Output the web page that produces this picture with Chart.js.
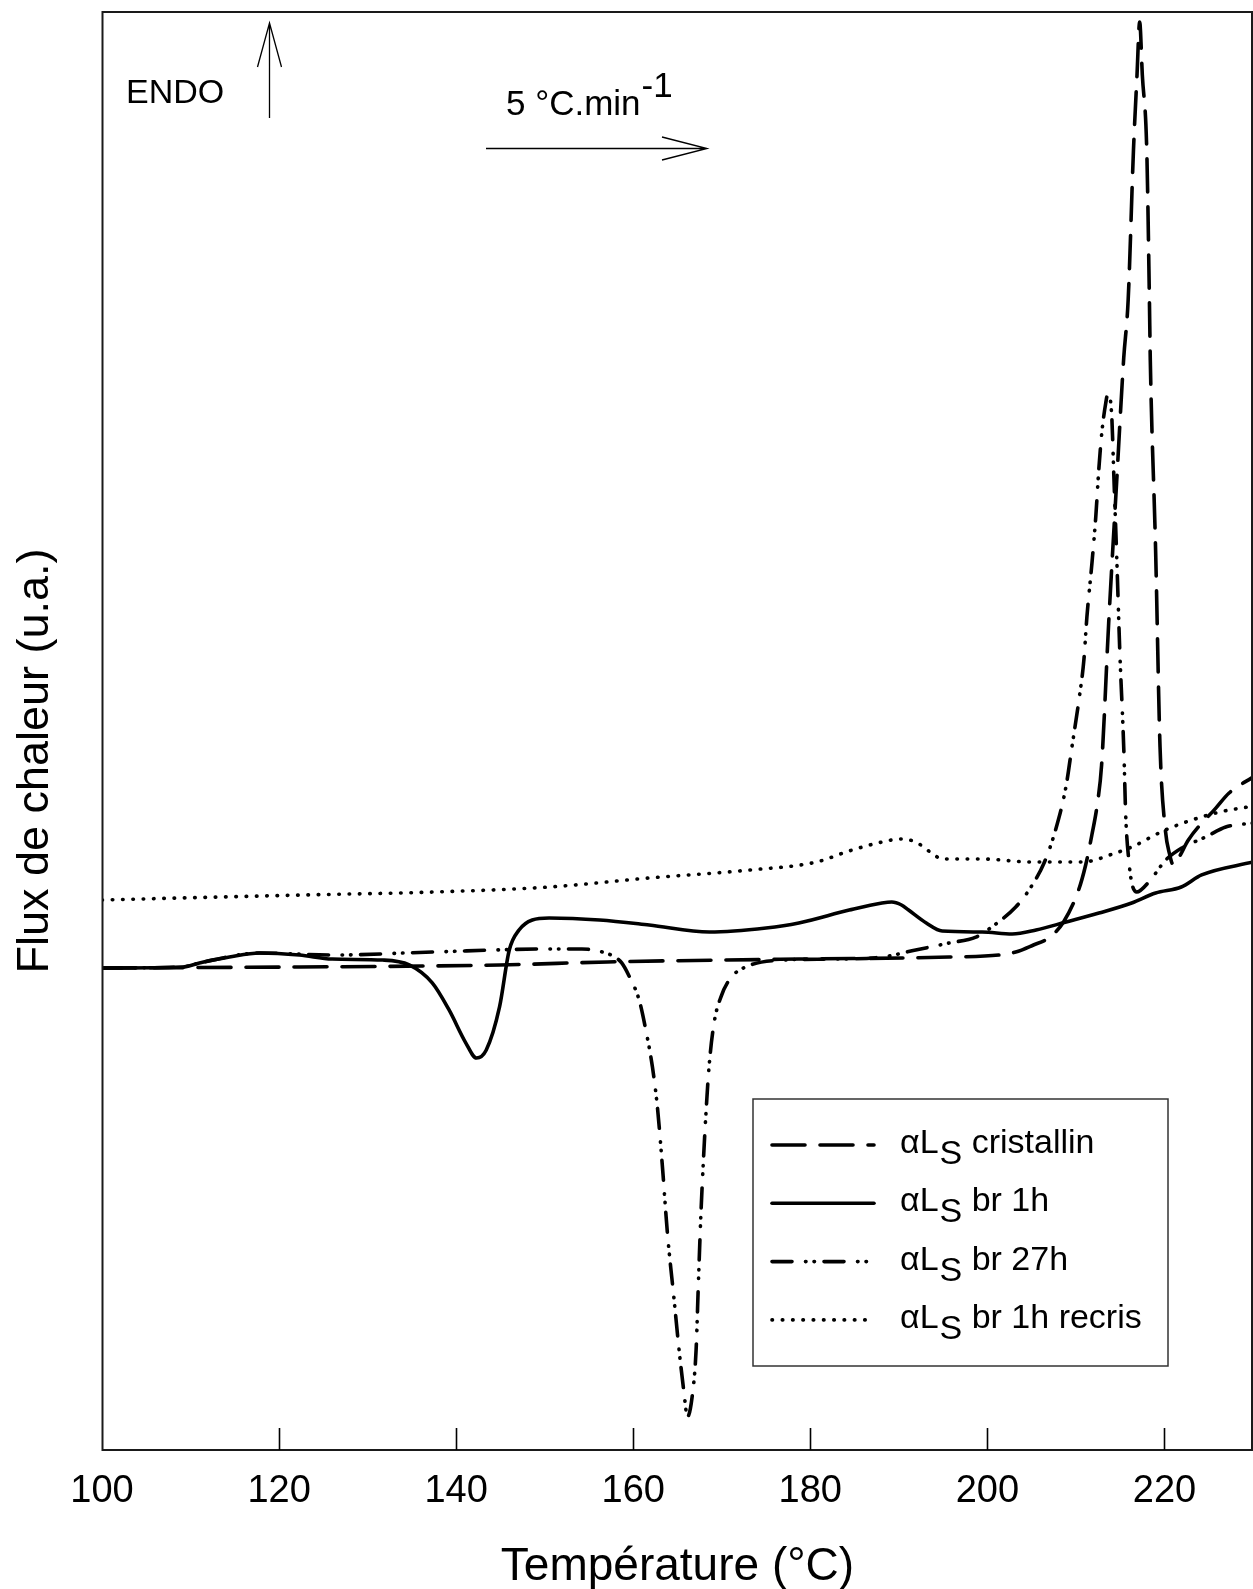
<!DOCTYPE html>
<html>
<head>
<meta charset="utf-8">
<style>
  html, body { margin: 0; padding: 0; background: #ffffff; overflow: hidden; }
  #wrap { width: 1253px; height: 1589px; }
</style>
<script src="https://cdn.jsdelivr.net/npm/chart.js"></script>
</head>
<body>
<div id="wrap"><canvas id="c" width="1253" height="1589"></canvas></div>
<script>
// ---------- data ----------
const tickValues = [100, 120, 140, 160, 180, 200, 220];

const seriesNames = ['cristallin', 'br 1h', 'br 27h', 'br 1h recris'];

const tempCristallin = [100, 122.3, 144.9, 157.1, 178.7, 195.7, 201.3, 203.2, 205.2, 206.9, 208.6, 210.3, 211.1, 211.8, 212.4, 212.9, 213.7, 214.6, 215.4, 215.9, 216.5, 216.9, 217.2, 217.5, 218.0, 218.3, 218.4, 219.0, 219.5, 220.1, 220.6, 221.0, 221.6, 222.7, 225.8, 227.3, 230];
const fluxCristallin = [33.52, 33.59, 33.73, 33.94, 34.14, 34.28, 34.42, 34.63, 35.12, 35.60, 36.72, 38.94, 40.68, 42.77, 44.85, 47.63, 57.51, 67.32, 75.94, 79.97, 90.40, 95.62, 99.30, 95.62, 90.40, 79.97, 75.80, 62.59, 48.89, 43.12, 41.38, 40.68, 41.17, 42.42, 44.64, 45.69, 46.80];

const tempBr1h = [100, 109.1, 111.0, 114.4, 117.8, 122.3, 126.0, 131.7, 134.7, 137.3, 139.2, 141.1, 142.3, 143.4, 144.9, 146.0, 147.1, 148.6, 150.5, 156.2, 161.8, 168.6, 175.0, 178.7, 184.4, 188.1, 189.2, 190.3, 191.1, 193.1, 194.9, 199.4, 202.8, 205.5, 208.9, 212.6, 216.3, 219.0, 221.9, 224.2, 230];
const fluxBr1h = [33.52, 33.59, 33.87, 34.28, 34.56, 34.42, 34.14, 34.07, 33.73, 32.48, 30.60, 28.30, 27.26, 27.82, 30.81, 34.77, 36.16, 36.86, 37.00, 36.86, 36.51, 36.02, 36.30, 36.65, 37.55, 38.04, 38.11, 37.90, 37.55, 36.65, 36.09, 36.02, 35.88, 36.16, 36.72, 37.34, 38.04, 38.73, 39.15, 39.99, 40.89];

const tempBr27h = [100, 109.1, 111.0, 117.8, 126.0, 137.3, 150.5, 154.2, 156.9, 158.1, 158.7, 159.5, 160.67, 161.42, 162.17, 162.73, 163.30, 163.86, 164.62, 165.18, 165.74, 166.12, 166.65, 167.10, 167.36, 167.63, 167.89, 168.19, 168.56, 169.13, 169.9, 171.0, 172.7, 176.8, 182.4, 188.1, 191.9, 195.7, 198.7, 200.5, 203.2, 204.7, 206.4, 207.7, 208.87, 209.55, 210.34, 210.9, 211.24, 211.81, 212.24, 212.58, 212.92, 213.37, 213.63, 214.05, 214.28, 214.62, 214.95, 215.41, 215.63, 215.97, 216.31, 216.87, 218.23, 220.15, 221.95, 224.66, 226.92, 230];
const fluxBr27h = [33.52, 33.59, 33.87, 34.56, 34.42, 34.63, 34.84, 34.84, 34.56, 34.21, 33.87, 33.0, 31.29, 29.21, 26.63, 23.85, 19.68, 15.09, 10.43, 6.95, 3.96, 2.3, 3.69, 6.95, 11.61, 16.20, 19.68, 23.16, 26.63, 29.69, 31.50, 32.82, 33.59, 34.07, 34.14, 34.28, 34.77, 35.26, 35.67, 36.37, 37.76, 38.94, 40.82, 43.12, 46.11, 48.89, 52.16, 54.94, 57.93, 61.68, 64.88, 68.15, 70.72, 72.81, 73.50, 71.84, 67.80, 61.89, 55.63, 48.68, 44.02, 41.03, 39.43, 38.80, 39.50, 41.03, 41.86, 42.63, 43.32, 43.60];

const tempRecris = [100, 122.3, 137.3, 150.5, 161.8, 173.1, 180.7, 184.4, 188.1, 190.3, 191.9, 193.7, 194.9, 199.4, 205.0, 210.7, 214.5, 216.3, 220.1, 225.8, 230];
const fluxRecris = [38.25, 38.59, 38.80, 39.15, 39.78, 40.33, 40.89, 41.66, 42.28, 42.49, 42.28, 41.52, 41.10, 41.10, 40.89, 40.89, 41.52, 41.93, 43.12, 44.30, 44.78];

// ---------- build ----------
const FONT = '"Liberation Sans", Arial, Helvetica, sans-serif';
const toPts = (xs, ys) => xs.map((x, i) => ({ x: x, y: ys[i] }));

const LINE_W = 3.6;
const dashPatterns = [
  [33, 15],
  [],
  [20, 13.5, 0.5, 8, 0.5, 9.5],
  [0.5, 9.8]
];

function mkDataset(name, xs, ys, dash) {
  return {
    label: name,
    data: toPts(xs, ys),
    borderColor: '#000000',
    backgroundColor: '#000000',
    borderWidth: LINE_W,
    borderDash: dash,
    borderCapStyle: 'round',
    borderJoinStyle: 'round',
    pointRadius: 0,
    pointHoverRadius: 0,
    fill: false,
    cubicInterpolationMode: 'monotone'
  };
}

const datasets = [
  mkDataset(seriesNames[0], tempCristallin, fluxCristallin, dashPatterns[0]),
  mkDataset(seriesNames[1], tempBr1h, fluxBr1h, dashPatterns[1]),
  mkDataset(seriesNames[2], tempBr27h, fluxBr27h, dashPatterns[2]),
  mkDataset(seriesNames[3], tempRecris, fluxRecris, dashPatterns[3])
];

const decor = {
  id: 'decor',
  afterDraw(chart) {
    const ctx = chart.ctx;
    const a = chart.chartArea;
    const xs = chart.scales.x;
    ctx.save();
    ctx.fillStyle = '#000';
    ctx.strokeStyle = '#000';

    // frame
    ctx.lineWidth = 2;
    ctx.strokeStyle = '#1a1a1a';
    ctx.setLineDash([]);
    ctx.strokeRect(a.left + 0.5, a.top, a.right - a.left - 1.5, a.bottom - a.top);

    // inside ticks
    ctx.lineWidth = 1.6;
    ctx.strokeStyle = '#000';
    tickValues.forEach(v => {
      if (v === xs.min) return;
      const px = Math.round(xs.getPixelForValue(v)) + 0.5;
      ctx.beginPath();
      ctx.moveTo(px, a.bottom);
      ctx.lineTo(px, a.bottom - 22);
      ctx.stroke();
    });

    // ENDO + up arrow
    ctx.font = '34px ' + FONT;
    ctx.textAlign = 'left';
    ctx.textBaseline = 'alphabetic';
    ctx.fillText('ENDO', 126, 103);
    ctx.lineWidth = 1.3;
    ctx.beginPath();
    ctx.moveTo(269.5, 118); ctx.lineTo(269.5, 23);
    ctx.moveTo(257.5, 67); ctx.lineTo(269.5, 23); ctx.lineTo(281.5, 67);
    ctx.stroke();

    // heating rate + right arrow
    ctx.font = '35px ' + FONT;
    const rateTxt = '5 °C.min';
    ctx.fillText(rateTxt, 506, 115);
    const w = ctx.measureText(rateTxt).width;
    ctx.fillText('-1', 506 + w + 1, 97);
    ctx.beginPath();
    ctx.moveTo(486, 148.5); ctx.lineTo(707, 148.5);
    ctx.moveTo(662, 137); ctx.lineTo(707, 148.5); ctx.lineTo(662, 160);
    ctx.stroke();

    // axis titles
    ctx.font = '46px ' + FONT;
    ctx.textAlign = 'center';
    ctx.fillText('Température (°C)', (a.left + a.right) / 2, 1580);
    ctx.save();
    ctx.translate(48, 761);
    ctx.rotate(-Math.PI / 2);
    ctx.font = '45px ' + FONT;
    ctx.fillText('Flux de chaleur (u.a.)', 0, 0);
    ctx.restore();

    // legend
    ctx.lineWidth = 1.5;
    ctx.strokeStyle = '#333';
    ctx.setLineDash([]);
    ctx.strokeRect(753, 1099, 415, 267);
    chart.data.datasets.forEach((ds, i) => {
      const ly = 1145 + i * 58.3;
      ctx.save();
      ctx.strokeStyle = '#000';
      ctx.lineWidth = LINE_W;
      ctx.lineCap = 'round';
      ctx.setLineDash(ds.borderDash || []);
      ctx.beginPath();
      ctx.moveTo(772, ly);
      ctx.lineTo(874, ly);
      ctx.stroke();
      ctx.restore();
      ctx.font = '34px ' + FONT;
      ctx.textAlign = 'left';
      let x = 900;
      const base = ly + 8;
      ctx.fillText('\u03B1L', x, base);
      x += ctx.measureText('\u03B1L').width + 1;
      ctx.fillText('S', x, base + 11);
      x += ctx.measureText('S').width;
      ctx.fillText(' ' + ds.label, x, base);
    });

    ctx.restore();
  }
};

new Chart(document.getElementById('c'), {
  type: 'line',
  data: { datasets: datasets },
  options: {
    responsive: false,
    animation: false,
    devicePixelRatio: 1,
    layout: { padding: { left: 102, top: 12, right: 0, bottom: 0 } },
    plugins: { legend: { display: false }, tooltip: { enabled: false } },
    scales: {
      x: {
        type: 'linear',
        min: 100,
        max: 230,
        afterBuildTicks: (scale) => { scale.ticks = tickValues.map(v => ({ value: v })); },
        afterFit: (scale) => { scale.height = 139; },
        grid: { display: false, drawTicks: false },
        border: { display: false },
        ticks: {
          autoSkip: false,
          maxRotation: 0,
          padding: 19,
          color: '#000',
          font: { family: FONT, size: 38, lineHeight: 1.2 }
        }
      },
      y: {
        type: 'linear',
        display: false,
        min: 0,
        max: 100
      }
    }
  },
  plugins: [decor]
});
</script>
</body>
</html>
